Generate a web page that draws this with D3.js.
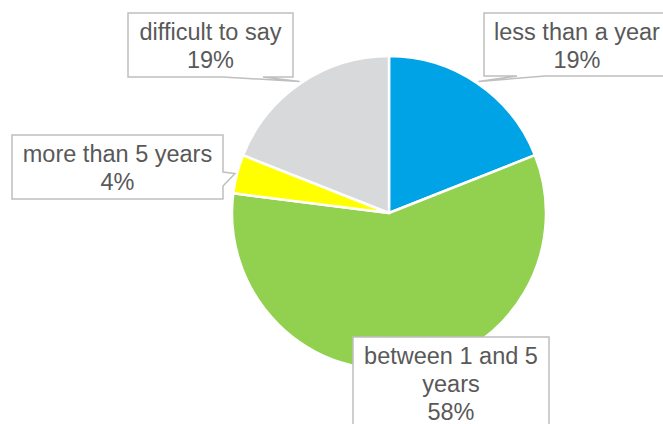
<html>
<head>
<script src="https://cdn.jsdelivr.net/npm/d3@7"></script>
<style>
body { margin:0; background:#fff; }
text { font-family: "Liberation Sans", Arial, sans-serif; }
</style>
</head>
<body>
<div id="chart"></div>
<script>
// data
categories = ["less than a year", "between 1 and 5 years", "more than 5 years", "difficult to say"]
values = [19, 58, 4, 19]
colors = ["#00A3E5", "#92D050", "#FFFF00", "#D8D9DB"]

// label boxes (callouts), placed like in the original
boxes = {
  "less than a year":      {x:484, y:13,  w:186, h:63,  side:"bottom", b1:33, b2:61},
  "between 1 and 5 years": {x:353, y:337, w:196, h:100, side:"none"},
  "more than 5 years":     {x:12,  y:135, w:211, h:64,  side:"right",  b1:37, b2:51},
  "difficult to say":      {x:128, y:13,  w:165, h:64,  side:"bottom", b1:95, b2:135}
}

W = 663, H = 424
cx = 389, cy = 213, R = 157

svg = d3.select("#chart").append("svg").attr("width", W).attr("height", H)

pie = d3.pie().sort(null).value(function(d){ return d })
arcs = pie(values)
arc = d3.arc().innerRadius(0).outerRadius(R)

g = svg.append("g").attr("transform", "translate(" + cx + "," + cy + ")")
g.selectAll("path").data(arcs).enter().append("path")
  .attr("d", arc)
  .attr("fill", function(d, i){ return colors[i] })
  .attr("stroke", "#fff").attr("stroke-width", 2.5).attr("stroke-linejoin", "round")

fmt = d3.format(".0%")

labels = svg.append("g")
arcs.forEach(function(a, i){
  b = boxes[categories[i]]
  mid = (a.startAngle + a.endAngle) / 2
  tx = cx + Math.sin(mid) * (R + 2)
  ty = cy - Math.cos(mid) * (R + 2)
  x0 = b.x, y0 = b.y, x1 = b.x + b.w, y1 = b.y + b.h
  p = "M" + x0 + "," + y0 + "H" + x1
  if (b.side == "right") {
    p += "V" + (y0 + b.b1) + "L" + tx + "," + ty + "L" + x1 + "," + (y0 + b.b2) + "V" + y1 + "H" + x0 + "Z"
  } else if (b.side == "bottom") {
    p += "V" + y1 + "H" + (x0 + b.b2) + "L" + tx + "," + ty + "L" + (x0 + b.b1) + "," + y1 + "H" + x0 + "Z"
  } else {
    p += "V" + y1 + "H" + x0 + "Z"
  }
  labels.append("path").attr("d", p).attr("fill", "#fff").attr("stroke", "#BFBFBF").attr("stroke-width", 1.5)

  t = labels.append("text").attr("text-anchor", "middle").attr("fill", "#595959").style("font-size", "23.5px")
  // wrap category name to box width
  words = categories[i].split(" ")
  lines = []
  line = []
  probe = labels.append("text").style("font-size", "23.5px")
  words.forEach(function(w){
    test = line.concat([w]).join(" ")
    probe.text(test)
    if (probe.node().getComputedTextLength() > b.w - 12 && line.length) {
      lines.push(line.join(" ")); line = [w]
    } else { line.push(w) }
  })
  lines.push(line.join(" "))
  probe.remove()
  lines.push(fmt(values[i] / 100))
  lines.forEach(function(l, k){
    t.append("tspan").attr("x", b.x + b.w / 2).attr("y", b.y + 27 + k * 28).text(l)
  })
})
</script>
</body>
</html>
